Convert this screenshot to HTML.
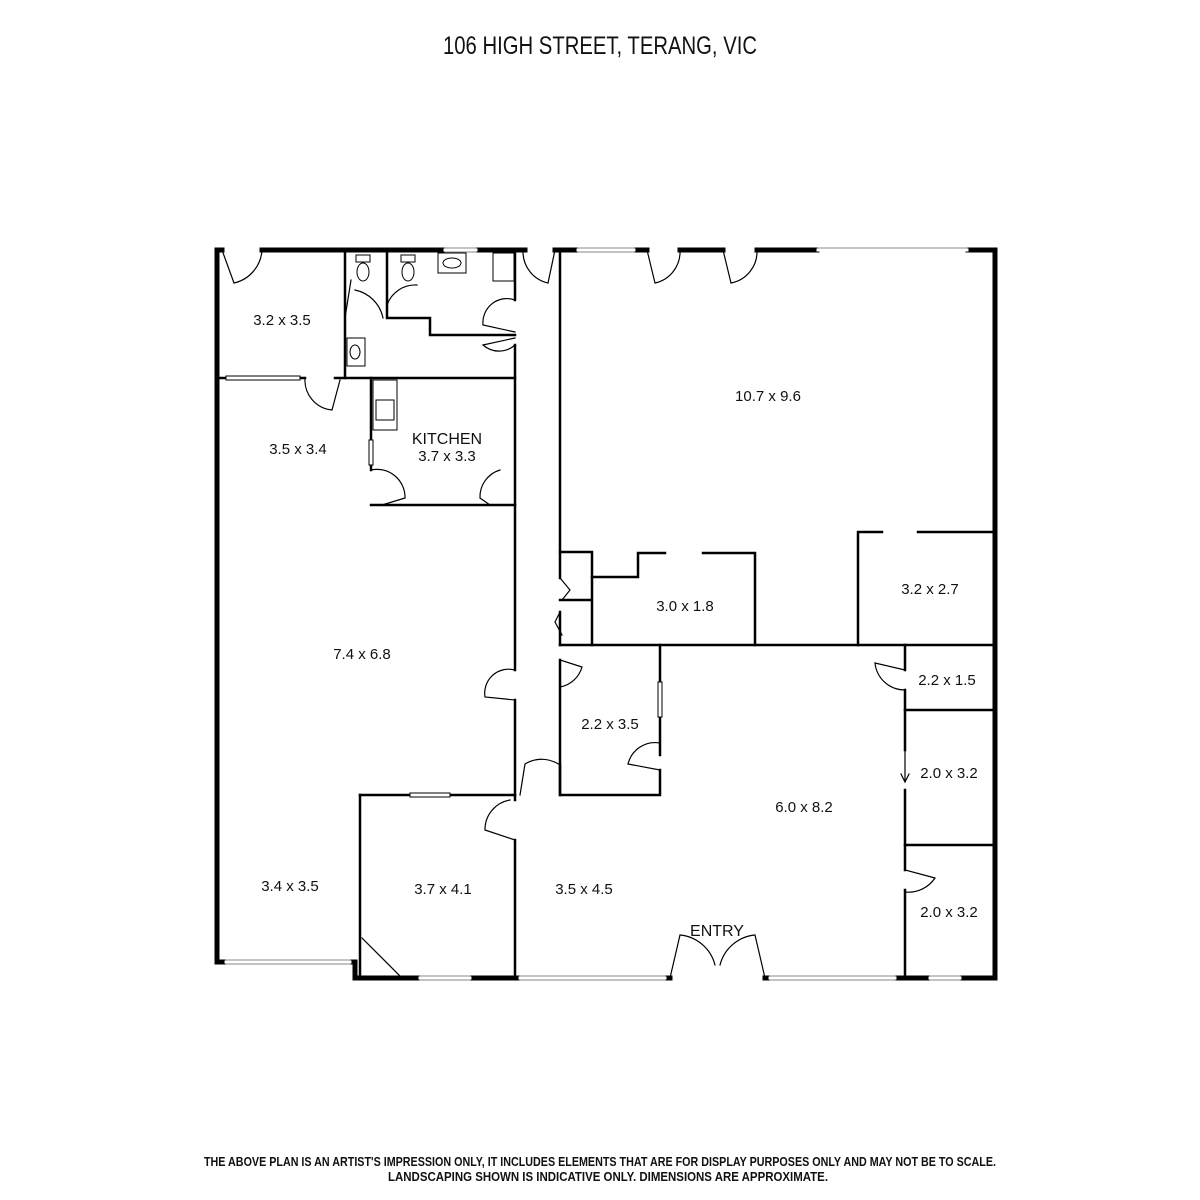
<!DOCTYPE html>
<html><head><meta charset="utf-8"><style>
html,body{margin:0;padding:0;background:#fff;width:1200px;height:1200px;overflow:hidden}
svg text{font-family:"Liberation Sans",sans-serif;fill:#111}
</style></head><body>
<svg width="1200" height="1200" viewBox="0 0 1200 1200" xmlns="http://www.w3.org/2000/svg">
<text x="443" y="54" font-size="25" textLength="314" lengthAdjust="spacingAndGlyphs">106 HIGH STREET, TERANG, VIC</text>
<g fill="none" stroke="#000" stroke-linecap="square">
<g stroke-width="5">
<path d="M217 962 V250 H222"/>
<path d="M262 250 H525"/>
<path d="M555 250 H647"/>
<path d="M680 250 H723"/>
<path d="M757 250 H817"/>
<path d="M968 250 H995 V978"/>
<path d="M217 962 H355 V978 H670"/>
<path d="M765 978 H995"/>
</g>
<g stroke="#fff" stroke-width="3">
<path d="M445 250 H476"/><path d="M578 250 H634"/><path d="M818 250 H967"/>
<path d="M420 978 H470"/><path d="M520 978 H665"/><path d="M770 978 H895"/><path d="M930 978 H960"/>
<path d="M226 962 H350"/>
</g>
<g stroke="#888" stroke-width="1">
<path d="M445 248 H476 M445 252 H476"/><path d="M578 248 H634 M578 252 H634"/><path d="M818 248 H967"/>
<path d="M420 976 H470 M420 980 H470"/><path d="M520 976 H665 M520 980 H665"/><path d="M770 976 H895 M770 980 H895"/><path d="M930 976 H960 M930 980 H960"/>
<path d="M226 960 H350 M226 964 H350"/>
</g>
<g stroke-width="2.5">
<path d="M345 250 V378"/>
<path d="M217 378 H225 M300 378 H305 M335 378 H515"/>
<path d="M387 250 V318 H430 V335 H515"/>
<path d="M371 378 V470 M371 505 H515"/>
<path d="M515 250 V300 M515 345 V670 M515 700 V795"/>
<path d="M360 795 H515 V800 M515 840 V978"/>
<path d="M360 795 V978"/>
<path d="M560 250 V552 H592 V645 M560 600 H592"/>
<path d="M592 577 H638 V553 H665 M703 553 H755 V645"/>
<path d="M858 645 V532 H882 M918 532 H995"/>
<path d="M560 645 H995"/>
<path d="M560 660 V795 H660 V770 M660 755 V645"/>
<path d="M905 645 V670 M905 690 V750 M905 790 V870 M905 890 V978"/>
<path d="M905 710 H995 M905 845 H995"/>
<path d="M560 552 V578 M560 612 V645 M560 765 V795"/>
</g>
<g stroke-width="1"><rect x="226" y="376" width="74" height="4" fill="#fff"/><rect x="410" y="793" width="40" height="4" fill="#fff"/><rect x="369" y="440" width="4" height="25" fill="#fff"/><rect x="658" y="682" width="4" height="35" fill="#fff"/></g>
<g stroke-width="1.2">
<path d="M222 250 L234 283 M262 250 A36 36 0 0 1 234 283"/>
<path d="M555 250 L548 283 M523 252 A32 32 0 0 0 548 283"/>
<path d="M647 250 L655 283 M680 250 A32 32 0 0 1 655 283"/>
<path d="M723 250 L731 283 M757 250 A32 32 0 0 1 731 283"/>
<path d="M305 378 A30 30 0 0 0 332 410 L340 380"/>
<path d="M345 318 L351 280 M355 290 A36 36 0 0 1 383 318"/>
<path d="M387 305 A30 30 0 0 1 417 285"/>
<path d="M515 300 A24 24 0 0 0 483 325 L515 332 M515 345 A24 24 0 0 1 483 345 L515 338"/>
<path d="M372 505 M382 505 L405 498 M405 498 A28 28 0 0 0 371 470"/>
<path d="M490 505 L480 498 M480 498 A28 28 0 0 1 500 470"/>
<path d="M515 670 A24 24 0 0 0 485 697 L515 700"/>
<path d="M560 660 L582 667 M582 667 A28 28 0 0 1 560 687"/>
<path d="M660 770 L628 764 M628 764 A28 28 0 0 1 660 743"/>
<path d="M560 765 A32 32 0 0 0 525 764 L520 795"/>
<path d="M515 840 L485 830 M485 830 A30 30 0 0 1 510 800"/>
<path d="M905 670 L875 663 M875 663 A30 30 0 0 0 905 690"/>
<path d="M905 870 L935 878 M935 878 A32 32 0 0 1 905 892"/>
<path d="M670 978 L680 935 M680 935 A40 40 0 0 1 715 965 M765 978 L755 935 M755 935 A40 40 0 0 0 720 965"/>
<path d="M560 578 L570 590 L562 600 M560 612 L555 622 L562 635"/>
<path d="M871 532 H882"/>
<path d="M905 750 V780 M901 774 L905 782 L909 774"/>
<path d="M362 938 L402 978"/>
</g>
<g stroke-width="1">
<rect x="356" y="255" width="14" height="7"/><ellipse cx="363" cy="272" rx="6" ry="9"/>
<rect x="401" y="255" width="14" height="7"/><ellipse cx="408" cy="272" rx="6" ry="9"/>
<rect x="438" y="253" width="28" height="20"/><ellipse cx="452" cy="263" rx="9" ry="5"/>
<rect x="493" y="253" width="21" height="28"/>
<rect x="347" y="338" width="18" height="28"/><ellipse cx="355" cy="352" rx="5" ry="7"/>
<rect x="373" y="380" width="24" height="50"/><rect x="376" y="400" width="18" height="20"/>
</g>
</g>
<g font-size="15" text-anchor="middle">
<text x="282" y="325">3.2 x 3.5</text>
<text x="298" y="454">3.5 x 3.4</text>
<text x="447" y="444" font-size="16">KITCHEN</text>
<text x="447" y="461">3.7 x 3.3</text>
<text x="768" y="401">10.7 x 9.6</text>
<text x="685" y="611">3.0 x 1.8</text>
<text x="930" y="594">3.2 x 2.7</text>
<text x="362" y="659">7.4 x 6.8</text>
<text x="610" y="729">2.2 x 3.5</text>
<text x="947" y="685">2.2 x 1.5</text>
<text x="949" y="778">2.0 x 3.2</text>
<text x="804" y="812">6.0 x 8.2</text>
<text x="290" y="891">3.4 x 3.5</text>
<text x="443" y="894">3.7 x 4.1</text>
<text x="584" y="894">3.5 x 4.5</text>
<text x="949" y="917">2.0 x 3.2</text>
<text x="717" y="936" font-size="16">ENTRY</text>
</g>
<g font-size="13" font-weight="bold">
<text x="204" y="1166" textLength="792" lengthAdjust="spacingAndGlyphs">THE ABOVE PLAN IS AN ARTIST'S IMPRESSION ONLY, IT INCLUDES ELEMENTS THAT ARE FOR DISPLAY PURPOSES ONLY AND MAY NOT BE TO SCALE.</text>
<text x="388" y="1181" textLength="440" lengthAdjust="spacingAndGlyphs">LANDSCAPING SHOWN IS INDICATIVE ONLY. DIMENSIONS ARE APPROXIMATE.</text>
</g>
</svg>
</body></html>
